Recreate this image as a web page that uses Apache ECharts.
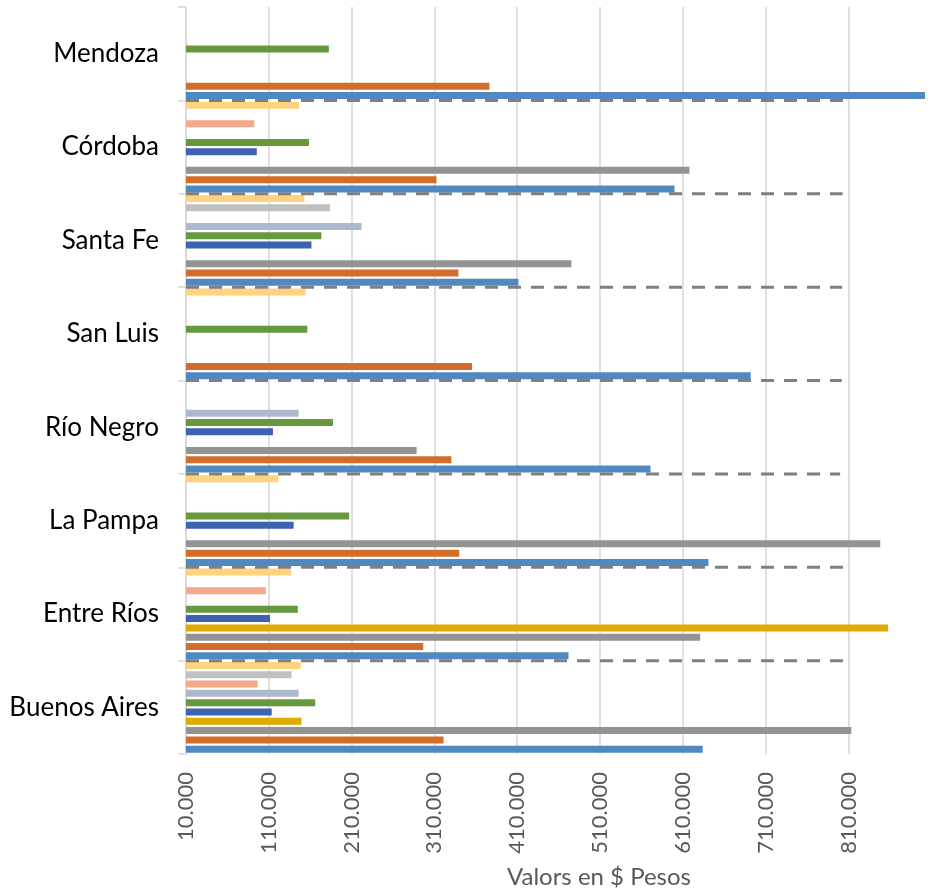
<!DOCTYPE html>
<html>
<head>
<meta charset="utf-8">
<script src="https://cdn.jsdelivr.net/npm/echarts@6/dist/echarts.min.js"></script>
<style>
html,body{margin:0;padding:0;background:#fff;}
#chart{width:932px;height:892px;}
</style>
</head>
<body>
<div id="chart"></div>
<script>
// Categories (bottom to top)
const categories = ['Buenos Aires', 'Entre Ríos', 'La Pampa', 'Río Negro', 'San Luis', 'Santa Fe', 'Córdoba', 'Mendoza'];

// Series values (same order as categories)
const serie1 = [634000, 472000, 641000, 571000, 692000, 411500, 600000, 902500];
const serie2 = [321000, 296500, 340000, 330500, 355500, 339000, 312500, 376500];
const serie3 = [813500, 631000, 848500, 288500, null, 475500, 618000, null];
const serie4 = [149500, 858000, null, null, null, null, null, null];
const serie5 = [113500, 111500, 140000, 115000, null, 161500, 95500, null];
const serie6 = [166000, 145000, 207000, 187500, 156500, 173500, 158500, 182500];
const serie7 = [146000, null, null, 146000, null, 222000, null, null];
const serie8 = [96500, 106500, null, null, null, null, 92500, null];
const serie9 = [137500, null, null, null, null, 184000, null, null];
const serie10 = [148500, 137000, 121500, null, 154500, 153000, 146500, null];

// Dashed reference line at the top of each category
const dashValues = [807000, 804000, 800000, 802000, 802500, 803000, 804000, null];

// Axis
const xMin = 10000;
const xMax = 902500;
const xStep = 100000;
const axisTitle = 'Valors en $ Pesos';

const seriesNames = ['Serie 1','Serie 2','Serie 3','Serie 4','Serie 5','Serie 6','Serie 7','Serie 8','Serie 9','Serie 10'];
const seriesData = [serie1, serie2, serie3, serie4, serie5, serie6, serie7, serie8, serie9, serie10];
const colors = ['#5089BF', '#D46C2A', '#939393', '#E0AA00', '#3D62AE', '#66993E', '#ACB9CC', '#F3AA8C', '#C0C0C0', '#FFD27F'];

function fmt(v) {
  return String(Math.round(v)).replace(/\B(?=(\d{3})+(?!\d))/g, '.');
}

const barSeries = [];
for (let i = seriesData.length - 1; i >= 0; i--) {
  barSeries.push({
    name: seriesNames[i],
    type: 'bar',
    data: seriesData[i],
    barWidth: 7,
    barGap: '33%',
    itemStyle: { color: colors[i] },
    emphasis: { disabled: true }
  });
}

const dashData = [];
dashValues.forEach((v, i) => { if (v != null) dashData.push([v, i]); });

const chart = echarts.init(document.getElementById('chart'), null, { renderer: 'canvas' });
chart.setOption({
  animation: false,
  backgroundColor: '#ffffff',
  grid: { left: 186, right: 7, top: 7, bottom: 138, containLabel: false, outerBoundsMode: 'none' },
  xAxis: {
    type: 'value',
    min: xMin,
    max: xMax,
    interval: xStep,
    axisLine: { show: false },
    axisTick: { show: false },
    axisLabel: {
      rotate: 90,
      margin: 18,
      color: '#595959',
      fontFamily: 'Lato',
      fontSize: 22,
      showMaxLabel: false,
      formatter: fmt
    },
    splitLine: { show: true, showMaxLine: false, lineStyle: { color: '#D9D9D9', width: 1.6 } }
  },
  yAxis: {
    type: 'category',
    data: categories,
    axisLine: { show: true, lineStyle: { color: '#D9D9D9', width: 1.6 } },
    axisTick: { show: true, length: 8, lineStyle: { color: '#D9D9D9', width: 1.6 } },
    axisLabel: { color: '#000000', fontFamily: 'Lato', fontSize: 26, margin: 27 }
  },
  graphic: [{
    type: 'text',
    x: 599,
    y: 877,
    style: { text: axisTitle, fill: '#595959', fontFamily: 'Lato', fontSize: 24, align: 'center', verticalAlign: 'middle' }
  }],
  series: barSeries.concat([{
    type: 'custom',
    name: 'Referencia',
    z: 10,
    data: dashData,
    encode: { x: 0, y: 1 },
    renderItem: function (params, api) {
      const idx = api.value(1);
      const end = api.coord([api.value(0), idx]);
      const start = api.coord([xMin, idx]);
      const band = api.size([0, 1])[1];
      const y = end[1] - band / 2;
      return {
        type: 'line',
        shape: { x1: start[0], y1: y, x2: end[0], y2: y },
        style: { stroke: '#7F7F7F', lineWidth: 3, lineDash: [13, 10] }
      };
    }
  }])
});
</script>
</body>
</html>
